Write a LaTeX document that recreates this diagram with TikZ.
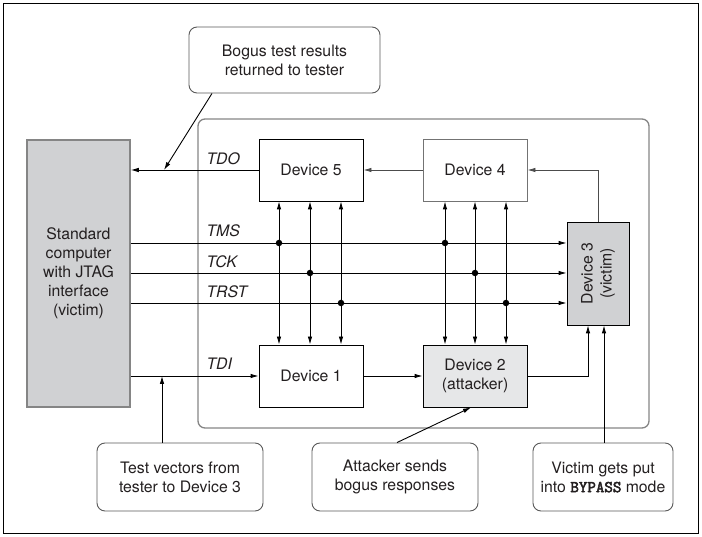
\documentclass[tikz,border=0pt]{standalone}
\usepackage{fontspec}
\setmainfont{TeX Gyre Heros}
\newfontfamily\bypassfont{Latin Modern Mono}[BoldFont={Latin Modern Mono}, BoldFeatures={FakeBold=3}]
\usetikzlibrary{arrows.meta,calc}
\definecolor{txt}{HTML}{231F20}
\definecolor{grayfill}{HTML}{D0D1D3}
\definecolor{lightfill}{HTML}{E6E7E8}
\definecolor{frameg}{HTML}{858585}
\begin{document}
\begin{tikzpicture}[x=1pt,y=-1pt,
  font=\fontsize{15.8}{19}\selectfont, text=txt,
  arr/.style={-{Latex[length=8pt,width=4.6pt]}, line width=0.9pt},
  darr/.style={{Latex[length=8pt,width=4.6pt]}-{Latex[length=8pt,width=4.6pt]}, line width=0.9pt},
  devbox/.style={draw, line width=0.9pt, minimum width=104pt, minimum height=62pt, align=center, inner sep=0pt},
  callout/.style={draw=black!65, line width=0.9pt, rounded corners=8pt, minimum height=68pt, align=center, inner sep=0pt},
  sig/.style={anchor=base west, font=\fontsize{15.8}{19}\selectfont\itshape},
  dot/.style={circle, fill=black, inner sep=0pt, minimum size=6.5pt}
]
\useasboundingbox (0,0) rectangle (702,537);
% outer border
\draw[line width=0.8pt] (3,3) rectangle (698,533);
% inner frame
\draw[frameg, line width=1.3pt, rounded corners=7pt] (198,119) rectangle (649,428);

% nodes
\node[draw=frameg, fill=grayfill, line width=1.5pt, minimum width=103pt, minimum height=267pt, inner sep=0pt, align=center] (comp) at (78.5,273.5) {Standard\\computer\\with JTAG\\interface\\(victim)};
\node[callout, minimum width=191pt, minimum height=66pt] (bogus) at (284.5,60) {Bogus test results\\returned to tester};
\node[devbox] (dev5) at (311,170) {Device 5};
\node[devbox, draw=black!55] (dev4) at (475,170) {Device 4};
\node[draw, fill=grayfill, line width=0.9pt, minimum width=62pt, minimum height=103pt, inner sep=0pt] (dev3) at (598,273.5) {};
\node[rotate=90, align=center] (dev3t) at (dev3.center) {Device 3\\(victim)};
\node[devbox] (dev1) at (311,376) {Device 1};
\node[devbox, fill=lightfill] (dev2) at (475,376) {Device 2\\(attacker)};
\node[callout, minimum width=166pt] (test) at (180,477) {Test vectors from\\tester to Device 3};
\node[callout, minimum width=166pt] (attk) at (395,477) {Attacker sends\\bogus responses};
\node[callout, minimum width=140pt] (vict) at (603,477) {Victim gets put\\into {\bypassfont\bfseries\fontsize{16.5}{19}\selectfont BYPASS} mode};

% helper coordinates
\coordinate (yTMS) at (0,243);
\coordinate (yTCK) at (0,273);
\coordinate (yTRST) at (0,303);
\coordinate (c1) at (279,0);
\coordinate (c2) at (310,0);
\coordinate (c3) at (341,0);
\coordinate (c4) at (445,0);
\coordinate (c5) at (475,0);
\coordinate (c6) at (506,0);
\coordinate (xTest) at (162,0);
\coordinate (xA) at (588,0);
\coordinate (xV) at (604,0);
\coordinate (xAt1) at (397,0);
\coordinate (xAt2) at (471,0);
\coordinate (xB1) at (212,0);
\coordinate (xB2) at (164,0);

% TDO chain
\draw[arr] (dev5.west) -- (dev5.west -| comp.east);
\draw[arr, black!70] (dev4.west) -- (dev5.east);
\draw[arr, black!70] (dev3.north) -- (dev3.north |- dev4.east) -- (dev4.east);

% control lines
\draw[arr] (comp.east |- yTMS) -- (dev3.west |- yTMS);
\draw[arr] (comp.east |- yTCK) -- (dev3.west |- yTCK);
\draw[arr] (comp.east |- yTRST) -- (dev3.west |- yTRST);

% verticals
\foreach \c in {c1,c2,c3,c4,c5,c6}{
  \draw[darr] (\c |- dev5.south) -- (\c |- dev1.north);
}
\node[dot] (d1) at (c1 |- yTMS) {};
\node[dot] (d2) at (c2 |- yTCK) {};
\node[dot] (d3) at (c3 |- yTRST) {};
\node[dot] (d4) at (c4 |- yTMS) {};
\node[dot] (d5) at (c5 |- yTCK) {};
\node[dot] (d6) at (c6 |- yTRST) {};

% TDI chain
\draw[arr] (dev1.west -| comp.east) -- (dev1.west);
\draw[arr] (dev1.east) -- (dev2.west);
\draw[arr] (dev2.east) -- (xA |- dev2.east) -- (xA |- dev3.south);

% callout arrows
\draw[arr] (xTest |- test.north) -- (xTest |- dev1.west);
\draw[arr] (xV |- vict.north) -- (xV |- dev3.south);
\draw[arr] (xAt1 |- attk.north) -- (xAt2 |- dev2.south);
\draw[arr] (xB1 |- bogus.south) -- (xB2 |- dev5.west);

% signal labels
\node[sig] (lTDO) at (203,165) {TDO};
\node[sig] (lTMS) at (203,237) {TMS};
\node[sig] (lTCK) at (203,268) {TCK};
\node[sig] (lTRST) at (203,298) {TRST};
\node[sig] (lTDI) at (203,370) {TDI};
\end{tikzpicture}
\end{document}
